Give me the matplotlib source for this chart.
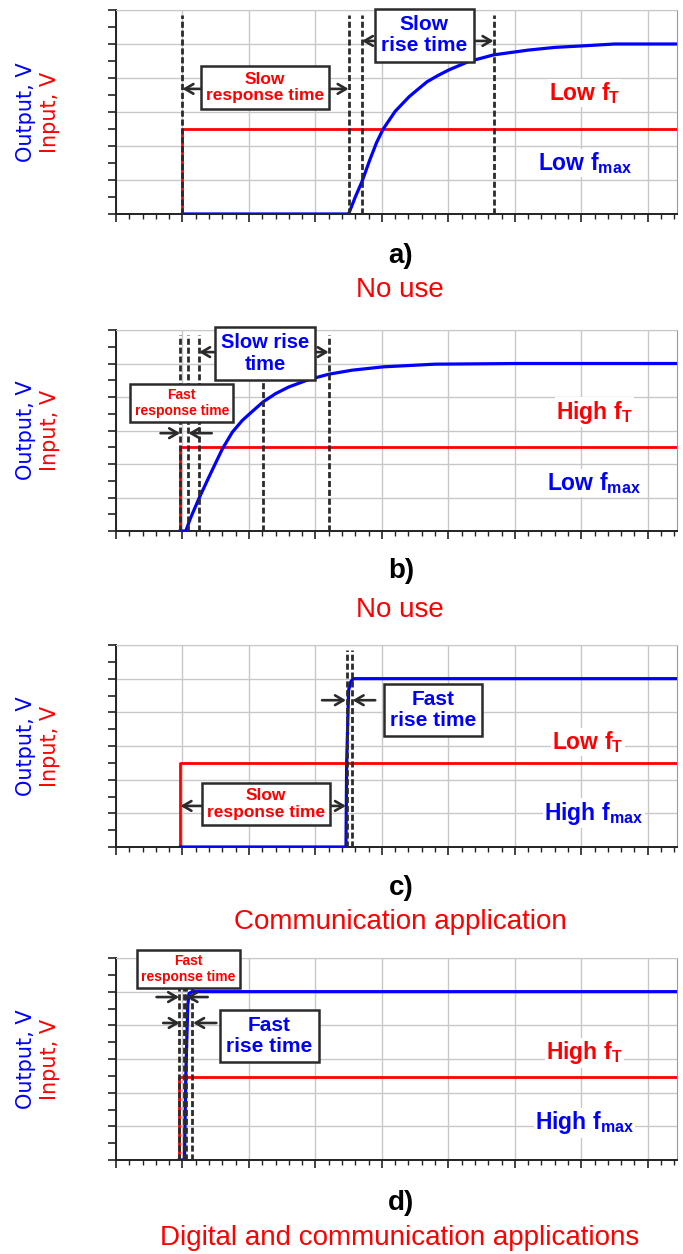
import matplotlib
matplotlib.use("Agg")
import matplotlib.pyplot as plt
from matplotlib.ticker import MultipleLocator

plt.rcParams['font.family'] = ['Liberation Sans', 'DejaVu Sans']
plt.rcParams['mathtext.fontset'] = 'custom'
plt.rcParams['mathtext.rm'] = 'Liberation Sans'
plt.rcParams['mathtext.bf'] = 'Liberation Sans:bold'

# ---- data (time in grid units, voltage in grid units) ----
in_a_t = [1.0, 1.0, 8.44]
in_a_v = [0.0, 2.5, 2.5]
out_a_t = [1.0, 3.5, 3.6, 3.7, 3.82, 3.92, 4.02, 4.2, 4.41, 4.55, 4.68, 4.85,
           5.01, 5.3, 5.68, 6.2, 6.6, 7.07, 7.5, 8.44]
out_a_v = [0.0, 0.0, 0.5, 0.95, 1.6, 2.1, 2.5, 3.02, 3.45, 3.68, 3.89, 4.08,
           4.24, 4.48, 4.68, 4.82, 4.9, 4.95, 5.0, 5.0]

in_b_t = [0.965, 0.965, 8.44]
in_b_v = [0.0, 2.5, 2.5]
out_b_t = [0.965, 1.05, 1.12, 1.25, 1.4, 1.6, 1.75, 1.9, 2.0, 2.21, 2.4, 2.6,
           2.9, 3.2, 3.55, 4.02, 4.8, 6.05, 8.44]
out_b_v = [0.0, 0.0, 0.38, 0.98, 1.62, 2.45, 2.95, 3.3, 3.48, 3.85, 4.1, 4.3,
           4.52, 4.68, 4.8, 4.9, 4.98, 5.0, 5.0]

in_c_t = [0.97, 0.97, 8.44]
in_c_v = [0.0, 2.5, 2.5]
out_c_t = [0.97, 3.46, 3.47, 3.50, 3.53, 3.57, 8.44]
out_c_v = [0.0, 0.0, 2.5, 4.66, 4.9, 5.0, 5.0]

in_d_t = [0.95, 0.95, 8.44]
in_d_v = [0.0, 2.47, 2.47]
out_d_t = [0.95, 1.03, 1.05, 1.08, 1.10, 1.15, 8.44]
out_d_v = [0.0, 0.0, 2.5, 4.6, 4.95, 5.0, 5.0]

dashes_a = [1.0, 3.5, 3.7, 5.68]
dashes_b = [0.965, 1.09, 1.25, 2.21, 3.2]
dashes_c = [3.47, 3.55]
dashes_d = [0.95, 1.03, 1.06, 1.14]

captions = ['a)', 'b)', 'c)', 'd)']
uses = ['No use', 'No use', 'Communication application',
        'Digital and communication applications']
ft_labels = [r'Low f$_\mathbf{T}$', r'High f$_\mathbf{T}$',
             r'Low f$_\mathbf{T}$', r'High f$_\mathbf{T}$']
fmax_labels = [r'Low f$_\mathbf{max}$', r'Low f$_\mathbf{max}$',
               r'High f$_\mathbf{max}$', r'High f$_\mathbf{max}$']

W, H = 683, 1254
RED = '#ff0000'
BLUE = '#0000ff'
DARK = '#2b2b2b'


def fx(x):
    return x / W


def fy(y):
    return 1 - y / H


fig = plt.figure(figsize=(W / 100, H / 100), dpi=100)

# panel extents in pixels: (top, bottom)
panels = [(10, 214), (330, 531), (645, 847), (958, 1160)]
left_px, right_px = 116, 677
XMAX = 8.44

axes = []
for top, bot in panels:
    ax = fig.add_axes([fx(left_px), fy(bot), (right_px - left_px) / W, (bot - top) / H])
    ax.set_xlim(0, XMAX)
    ax.set_ylim(0, 6)
    ax.xaxis.set_major_locator(MultipleLocator(1))
    ax.xaxis.set_minor_locator(MultipleLocator(0.2))
    ax.yaxis.set_major_locator(MultipleLocator(1))
    ax.yaxis.set_minor_locator(MultipleLocator(0.5))
    ax.grid(True, which='major', color='#c8c8c8', lw=1.0, zorder=0)
    ax.set_axisbelow(True)
    ax.tick_params(which='both', direction='out', labelbottom=False, labelleft=False,
                   color='#222222')
    ax.tick_params(which='major', length=6, width=1.2)
    ax.tick_params(axis='x', which='minor', length=3.5, width=1.0)
    ax.tick_params(axis='y', which='minor', length=6, width=1.2)
    for s in ['left', 'bottom']:
        ax.spines[s].set_color('#222222')
        ax.spines[s].set_linewidth(1.4)
    ax.spines['top'].set_color('#c8c8c8')
    ax.spines['right'].set_color('#999999')
    axes.append(ax)

series = [(in_a_t, in_a_v, out_a_t, out_a_v, dashes_a),
          (in_b_t, in_b_v, out_b_t, out_b_v, dashes_b),
          (in_c_t, in_c_v, out_c_t, out_c_v, dashes_c),
          (in_d_t, in_d_v, out_d_t, out_d_v, dashes_d)]

for ax, (it, iv, ot, ov, dl) in zip(axes, series):
    ax.plot(it, iv, color=RED, lw=2.0, zorder=3, solid_capstyle='butt')
    ax.plot(ot, ov, color=BLUE, lw=2.3, zorder=4, solid_joinstyle='round')
    for x in dl:
        ax.plot([x, x], [0, 5.85], color=DARK, lw=2.0, ls=(0, (2.2, 1.0)), zorder=5)

box = dict(boxstyle='square,pad=0.3', facecolor='white', edgecolor=DARK, lw=1.8)
lbl_bg = dict(facecolor='white', edgecolor='none', pad=1)


def arrow(ax, x0, x1, y, style='->'):
    ax.annotate('', xy=(x1, y), xytext=(x0, y),
                arrowprops=dict(arrowstyle=style + ',head_length=0.6,head_width=0.35',
                                color=DARK, lw=1.9, shrinkA=0, shrinkB=0),
                zorder=6)


def boxtext(ax, x, y, s, color, size):
    ax.text(x, y, s, color=color, fontsize=size, fontweight='bold', ha='center',
            va='center', linespacing=1.15, bbox=box, zorder=10, clip_on=False)


# panel a
ax = axes[0]
arrow(ax, 1.0, 3.5, 3.68, '<->')
arrow(ax, 3.7, 5.68, 5.09, '<->')
boxtext(ax, 2.24, 3.72, 'Slow\nresponse time', RED, 12.5)
boxtext(ax, 4.64, 5.26, 'Slow\nrise time', BLUE, 15)

# panel b
ax = axes[1]
arrow(ax, 1.25, 3.2, 5.34, '<->')
arrow(ax, 0.67, 0.965, 2.92)
arrow(ax, 1.44, 1.09, 2.92)
boxtext(ax, 2.24, 5.3, 'Slow rise\ntime', BLUE, 14.5)
boxtext(ax, 0.99, 3.82, 'Fast\nresponse time', RED, 10)

# panel c
ax = axes[2]
arrow(ax, 3.1, 3.46, 4.36)
arrow(ax, 3.9, 3.56, 4.36)
arrow(ax, 0.97, 3.46, 1.22, '<->')
boxtext(ax, 4.77, 4.07, 'Fast\nrise time', BLUE, 15)
boxtext(ax, 2.26, 1.27, 'Slow\nresponse time', RED, 12.5)

# panel d
ax = axes[3]
arrow(ax, 0.61, 0.95, 4.84)
arrow(ax, 1.38, 1.06, 4.84)
arrow(ax, 0.71, 0.96, 4.07)
arrow(ax, 1.51, 1.16, 4.07)
boxtext(ax, 1.09, 5.67, 'Fast\nresponse time', RED, 10)
boxtext(ax, 2.31, 3.68, 'Fast\nrise time', BLUE, 15)

# f_T / f_max labels
ft_pos = [(7.05, 3.56), (7.2, 3.55), (7.1, 3.12), (7.05, 3.18)]
fmax_pos = [(7.05, 1.5), (7.19, 1.43), (7.19, 1.0), (7.05, 1.1)]
for ax, s1, s2, p1, p2 in zip(axes, ft_labels, fmax_labels, ft_pos, fmax_pos):
    ax.text(p1[0], p1[1], s1, color=RED, fontsize=16.5, fontweight='bold',
            ha='center', va='center', bbox=lbl_bg, zorder=7)
    ax.text(p2[0], p2[1], s2, color=BLUE, fontsize=16.5, fontweight='bold',
            ha='center', va='center', bbox=lbl_bg, zorder=7)

# y labels
for top, bot in panels:
    yc = (top + bot) / 2
    fig.text(fx(26), fy(yc), 'Output, V', color=BLUE, fontsize=15, rotation=90,
             ha='center', va='center', family='DejaVu Sans')
    fig.text(fx(50), fy(yc), 'Input, V', color=RED, fontsize=15, rotation=90,
             ha='center', va='center', family='DejaVu Sans')

# captions
cap_y = [256, 571, 888, 1203]
use_y = [290, 610, 922, 1238]
for c, u, cy, uy in zip(captions, uses, cap_y, use_y):
    fig.text(fx(401), fy(cy), c, fontsize=20, fontweight='bold', ha='center', va='center')
    fig.text(fx(400), fy(uy), u, fontsize=20, color=RED, ha='center', va='center')

fig.savefig('out.png', dpi=100)
